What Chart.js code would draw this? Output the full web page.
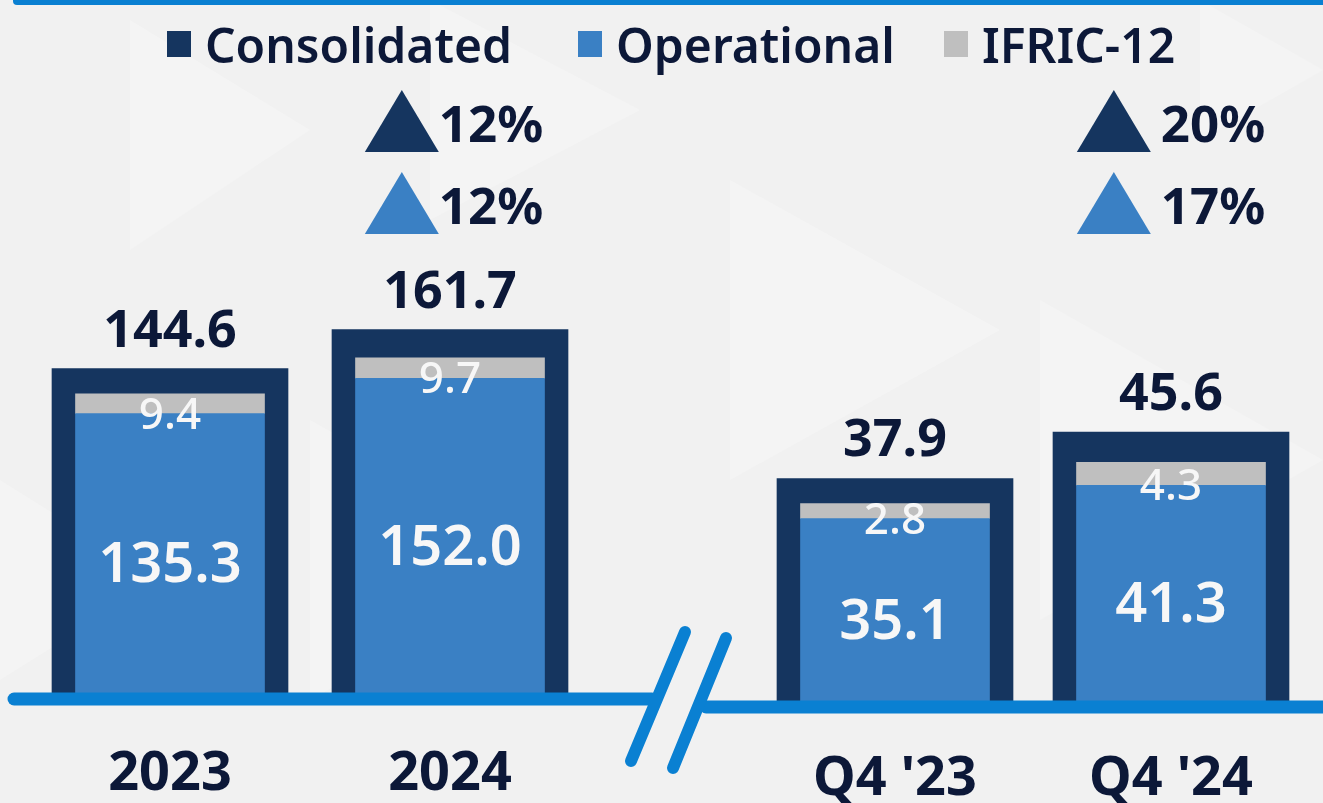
<!DOCTYPE html>
<html>
<head>
<meta charset="utf-8">
<script src="https://cdn.jsdelivr.net/npm/chart.js@4.4.1/dist/chart.umd.min.js"></script>
<style>
  html, body { margin: 0; padding: 0; }
  body {
    width: 1323px; height: 803px; overflow: hidden; position: relative;
    background: #f1f1f1;
    font-family: "Noto Sans", sans-serif;
  }
  #bg { position: absolute; left: 0; top: 0; }
  #topbar {
    position: absolute; left: 13px; top: 0; right: 0; height: 5px;
    background: #0a80d2; border-bottom-left-radius: 4px;
  }
  canvas.chart { position: absolute; left: 0; top: 0; }
  .legend { position: absolute; top: 14px; height: 60px; display: flex; align-items: center;
            font-size: 48px; font-weight: 600; color: #0c1838; white-space: nowrap; }
  .legend i { display: inline-block; width: 24px; height: 26px; margin-right: 14px; }
</style>
</head>
<body>
<svg id="bg" width="1323" height="803">
  <g fill="#f4f4f4">
    <polygon points="130,20 310,130 130,250"/>
    <polygon points="730,180 1000,330 730,480"/>
    <polygon points="0,480 160,580 0,680"/>
    <polygon points="1040,300 1323,460 1040,620"/>
    <polygon points="310,420 560,560 310,700"/>
    <polygon points="430,0 640,110 430,220"/>
    <polygon points="1200,0 1323,70 1200,140"/>
  </g>
</svg>
<div id="topbar"></div>
<canvas class="chart" id="annual" width="1323" height="803"></canvas>
<canvas class="chart" id="quarter" width="1323" height="803"></canvas>
<div class="legend" style="left:167px"><i style="background:#15355f"></i>Consolidated</div>
<div class="legend" style="left:578px"><i style="background:#3a80c4"></i>Operational</div>
<div class="legend" style="left:944px"><i style="background:#bfbfbf"></i>IFRIC-12</div>
<script>
// ── Données (M€) ───────────────────────────────────────────────────────────
const annualLabels        = ['2023', '2024'];
const annualConsolidated  = [144.6, 161.7];
const annualOperational   = [135.3, 152.0];
const annualIfric         = [9.4, 9.7];

const quarterLabels       = ["Q4 '23", "Q4 '24"];
const quarterConsolidated = [37.9, 45.6];
const quarterOperational  = [35.1, 41.3];
const quarterIfric        = [2.8, 4.3];

// variations affichées au-dessus de la 2e barre de chaque groupe
const annualGrowth  = ['12%', '12%'];   // consolidated, operational
const quarterGrowth = ['20%', '17%'];

const NAVY = '#15355f';
const BLUE = '#3a80c4';
const GREY = '#bfbfbf';
const INK  = '#0c1838';
const LINE = '#0a80d2';
const FONT = '"Noto Sans", sans-serif';

// ── Étiquettes des barres ──────────────────────────────────────────────────
const barLabels = {
  id: 'barLabels',
  afterDatasetsDraw(chart, args, opts) {
    const { ctx, chartArea } = chart;
    const op  = chart.getDatasetMeta(0);
    const ifr = chart.getDatasetMeta(1);
    const con = chart.getDatasetMeta(2);
    const ds  = chart.data.datasets;
    ctx.save();
    ctx.textAlign = 'center';
    ctx.textBaseline = 'alphabetic';

    con.data.forEach((bar, i) => {
      // total consolidé au-dessus
      ctx.fillStyle = INK;
      ctx.font = `700 52px ${FONT}`;
      ctx.fillText(ds[2].data[i].toFixed(1), bar.x, bar.y - 22);

      // opérationnel, au milieu du bloc bleu
      const o = op.data[i];
      ctx.fillStyle = '#f7f7f7';
      ctx.font = `600 56px ${FONT}`;
      ctx.fillText(ds[0].data[i].toFixed(1), o.x, (o.y + o.base) / 2 + 26);

      // IFRIC-12, centré sur la jonction gris / bleu
      const g = ifr.data[i];
      ctx.font = `500 44px ${FONT}`;
      ctx.fillText(ds[1].data[i].toFixed(1), g.x, g.base + 15);

      // catégorie sous l'axe
      ctx.fillStyle = INK;
      ctx.font = `700 54px ${FONT}`;
      ctx.fillText(chart.data.labels[i], bar.x, chartArea.bottom + opts.labelOffset);
    });

    // flèches de croissance au-dessus de la dernière barre
    const last = con.data[con.data.length - 1];
    const rows = [[NAVY, opts.growth[0], 152], [BLUE, opts.growth[1], 234]];
    ctx.font = `700 51px ${FONT}`;
    ctx.textAlign = 'left';
    rows.forEach(([color, txt, bottom]) => {
      const tw = 74, th = 62, gap = opts.growthGap;
      const w = tw + gap + ctx.measureText(txt).width;
      const x0 = last.x - w / 2 + opts.growthShift;
      ctx.fillStyle = color;
      ctx.beginPath();
      ctx.moveTo(x0, bottom);
      ctx.lineTo(x0 + tw / 2, bottom - th);
      ctx.lineTo(x0 + tw, bottom);
      ctx.closePath();
      ctx.fill();
      ctx.fillStyle = INK;
      ctx.fillText(txt, x0 + tw + gap, bottom - 10);
    });
    ctx.restore();
  },
};

// ── Axe bleu + coupure ─────────────────────────────────────────────────────
const axisLine = {
  id: 'axisLine',
  afterDraw(chart, args, opts) {
    const { ctx, chartArea } = chart;
    ctx.save();
    ctx.strokeStyle = LINE;
    ctx.lineWidth = 13;
    ctx.lineCap = 'round';
    ctx.beginPath();
    ctx.moveTo(opts.from, chartArea.bottom);
    ctx.lineTo(opts.to, chartArea.bottom);
    ctx.stroke();
    if (opts.breakMark) {
      ctx.lineWidth = 12;
      [[685, 632, 631, 761], [726, 638, 673, 768]].forEach(([x1, y1, x2, y2]) => {
        ctx.beginPath();
        ctx.moveTo(x1, y1);
        ctx.lineTo(x2, y2);
        ctx.stroke();
      });
    }
    ctx.restore();
  },
};

function makeChart(id, labels, operational, ifric, consolidated, cfg) {
  return new Chart(document.getElementById(id), {
    type: 'bar',
    data: {
      labels,
      datasets: [
        { label: 'Operational',  data: operational,  backgroundColor: BLUE, yAxisID: 'yIn', stack: 'in', barThickness: 189 },
        { label: 'IFRIC-12',     data: ifric,        backgroundColor: GREY, yAxisID: 'yIn', stack: 'in', barThickness: 189 },
        { label: 'Consolidated', data: consolidated, backgroundColor: NAVY, yAxisID: 'yOut', barThickness: 236 },
      ],
    },
    options: {
      responsive: false,
      animation: false,
      events: [],
      layout: { padding: cfg.padding },
      datasets: { bar: { grouped: false, borderWidth: 0 } },
      plugins: {
        legend: { display: false },
        tooltip: { enabled: false },
        barLabels: { growth: cfg.growth, labelOffset: cfg.labelOffset, growthGap: cfg.growthGap, growthShift: cfg.growthShift },
        axisLine: cfg.axis,
      },
      scales: {
        x:    { display: false, offset: true },
        yOut: { display: false, min: 0, max: cfg.outMax },
        yIn:  { display: false, min: 0, max: cfg.inMax, stacked: true },
      },
    },
    plugins: [barLabels, axisLine],
  });
}

makeChart('annual', annualLabels, annualOperational, annualIfric, annualConsolidated, {
  padding: { left: 30, right: 733, top: 99, bottom: 104 },
  outMax: 262.6, inMax: 284.4,
  growth: annualGrowth, labelOffset: 91, growthGap: 0, growthShift: 4,
  axis: { from: 14, to: 652, breakMark: false },
});

makeChart('quarter', quarterLabels, quarterOperational, quarterIfric, quarterConsolidated, {
  padding: { left: 757, right: 14, top: 107, bottom: 96 },
  outMax: 99.5, inMax: 111.8,
  growth: quarterGrowth, labelOffset: 88, growthGap: 10, growthShift: 0,
  axis: { from: 706, to: 1330, breakMark: true },
});
</script>
</body>
</html>
